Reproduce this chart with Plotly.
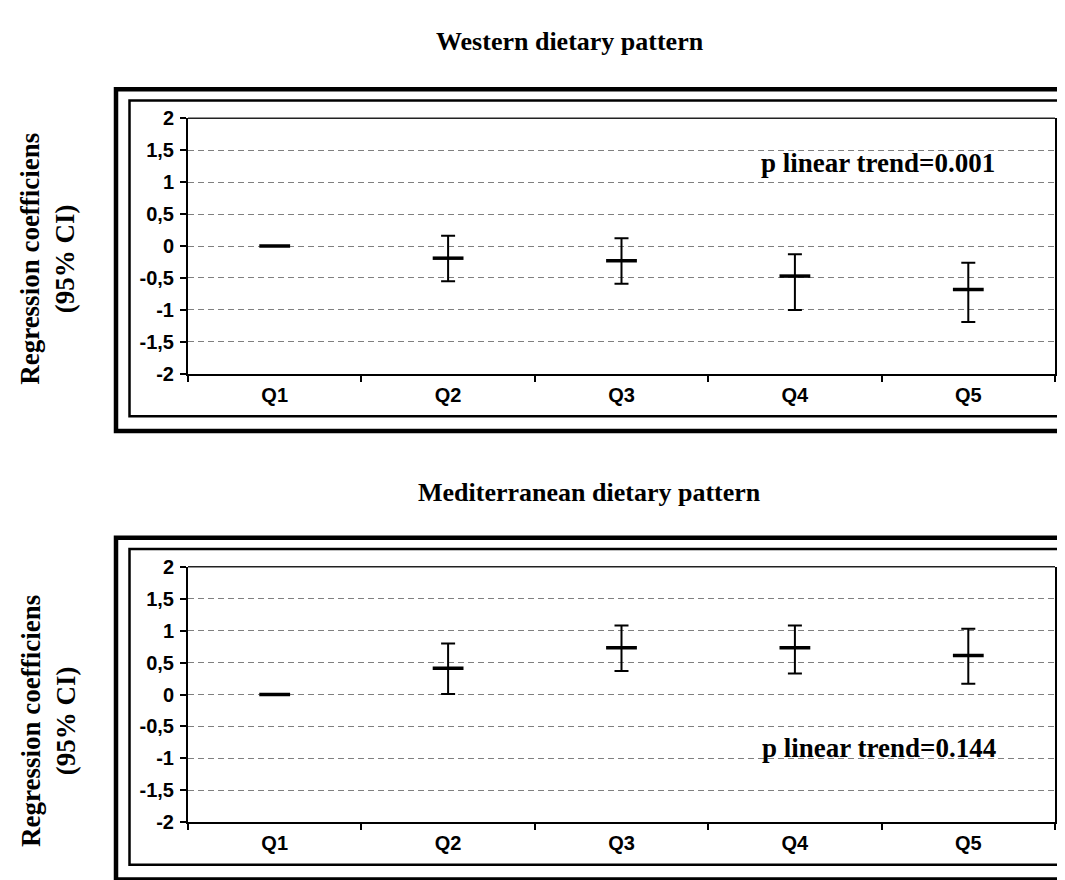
import plotly.graph_objects as go

W, H = 1065, 880

categories = ["Q1", "Q2", "Q3", "Q4", "Q5"]

western_mean = [0.0, -0.19, -0.23, -0.47, -0.68]
western_upper = [0.0, 0.16, 0.12, -0.13, -0.26]
western_lower = [0.0, -0.55, -0.59, -1.00, -1.19]

med_mean = [0.0, 0.41, 0.73, 0.73, 0.61]
med_upper = [0.0, 0.80, 1.08, 1.08, 1.03]
med_lower = [0.0, 0.01, 0.37, 0.33, 0.17]

y_tickvals = [-2, -1.5, -1, -0.5, 0, 0.5, 1, 1.5, 2]
y_ticktext = ["-2", "-1,5", "-1", "-0,5", "0", "0,5", "1", "1,5", "2"]

titles = ["Western dietary pattern", "Mediterranean dietary pattern"]
p_texts = ["p linear trend=0.001", "p linear trend=0.144"]
y_title = "Regression coefficiens<br>(95% CI)"


def px_x(x):
    return x / W


def px_y(y):
    return 1 - y / H


fig = go.Figure()

series = [(western_mean, western_upper, western_lower, "x", "y"),
          (med_mean, med_upper, med_lower, "x2", "y2")]
for mean, up, lo, xa, ya in series:
    fig.add_trace(go.Scatter(
        x=categories, y=mean, xaxis=xa, yaxis=ya, mode="markers",
        marker=dict(symbol="line-ew", size=22, color="black",
                    line=dict(color="black", width=3.5)),
        error_y=dict(type="data", symmetric=False,
                     array=[u - m for u, m in zip(up, mean)],
                     arrayminus=[m - l for m, l in zip(mean, lo)],
                     color="black", thickness=2, width=7),
        showlegend=False, hoverinfo="skip",
    ))

x_dom = [px_x(180), px_x(1047)]
dom_top = [px_y(364), px_y(101.7)]
dom_bot = [px_y(824), px_y(561.7)]

tick_font = dict(family="Liberation Sans", size=20, color="black", weight="bold")

xaxis_common = dict(
    type="category", range=[-0.5, 4.5], tickson="boundaries",
    showline=True, linecolor="black", linewidth=2,
    ticks="outside", ticklen=6, tickwidth=2, tickcolor="black",
    tickfont=tick_font, ticklabelstandoff=2,
    showgrid=False, zeroline=False, domain=x_dom, fixedrange=True,
)
yaxis_common = dict(
    range=[-2, 2], tickmode="array", tickvals=y_tickvals, ticktext=y_ticktext,
    showline=True, linecolor="black", linewidth=2, mirror=True,
    ticks="outside", ticklen=6, tickwidth=2, tickcolor="black",
    tickfont=tick_font, ticklabelstandoff=2,
    showgrid=True, gridcolor="#808080", gridwidth=1, griddash="6px,4px",
    zeroline=False, fixedrange=True,
)

fig.update_layout(
    width=W, height=H, margin=dict(l=0, r=0, t=0, b=0),
    paper_bgcolor="white", plot_bgcolor="white",
    xaxis=dict(xaxis_common, anchor="y"),
    yaxis=dict(yaxis_common, domain=dom_top, anchor="x"),
    xaxis2=dict(xaxis_common, anchor="y2"),
    yaxis2=dict(yaxis_common, domain=dom_bot, anchor="x2"),
)

shapes = []
# outer thick frames and inner thin frames
for off in (0, 460):
    shapes.append(dict(type="rect", xref="paper", yref="paper",
                       x0=px_x(108), x1=px_x(1075), y0=px_y(72 + off), y1=px_y(422.5 + off),
                       line=dict(color="black", width=4.5), layer="below"))
    shapes.append(dict(type="rect", xref="paper", yref="paper",
                       x0=px_x(121.5), x1=px_x(1062.5), y0=px_y(83.5 + off), y1=px_y(407.5 + off),
                       line=dict(color="black", width=2.5), layer="below"))
# top border of each plot area
for xr, dom in (("x domain", dom_top), ("x2 domain", dom_bot)):
    shapes.append(dict(type="line", xref=xr, yref="paper", x0=0, x1=1,
                       y0=dom[1], y1=dom[1], line=dict(color="#222222", width=1.5)))
fig.update_layout(shapes=shapes)

serif = "Liberation Serif"
ann = []
ann.append(dict(text=titles[0], x=px_x(562), y=px_y(23), xref="paper", yref="paper",
                showarrow=False, xanchor="center", yanchor="middle",
                font=dict(family=serif, size=26, color="black", weight="bold")))
ann.append(dict(text=titles[1], x=px_x(581), y=px_y(486), xref="paper", yref="paper",
                showarrow=False, xanchor="center", yanchor="middle",
                font=dict(family=serif, size=26, color="black", weight="bold")))
for yc in (246, 720):
    ann.append(dict(text=y_title, x=px_x(40), y=px_y(yc), xref="paper", yref="paper",
                    showarrow=False, textangle=-90, xanchor="center", yanchor="middle",
                    font=dict(family=serif, size=27, color="black", weight="bold")))
ann.append(dict(text=p_texts[0], x=px_x(870), y=px_y(148), xref="paper", yref="paper",
                showarrow=False, xanchor="center", yanchor="middle",
                font=dict(family=serif, size=27, color="black", weight="bold")))
ann.append(dict(text=p_texts[1], x=px_x(871), y=px_y(748), xref="paper", yref="paper",
                showarrow=False, xanchor="center", yanchor="middle",
                font=dict(family=serif, size=27, color="black", weight="bold")))
fig.update_layout(annotations=ann)

fig.write_html("out.html")
